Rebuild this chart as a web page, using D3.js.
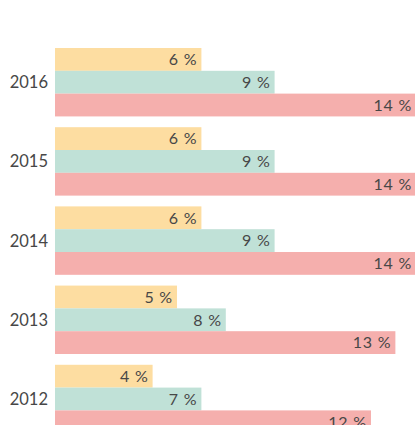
<html>
    <head>
        <title>bars</title>
        <script src="https://d3js.org/d3.v7.min.js"></script>
    </head>
    <body>
        <svg id="chart" height="425" width="415"></svg>
        <script>
            // years, top to bottom
            const years = ["2016", "2015", "2014", "2013", "2012"];
            const series = ["a", "b", "c"];
            const colors = ["#fddda1", "#c0e1d7", "#f5afad"];

            // bar lengths (same unit for all bars)
            const barA = [6, 6, 6, 5, 4];
            const barB = [9, 9, 9, 7, 6];
            const barC = [14.8, 14.8, 14.8, 13.95, 12.95];

            // the percentages printed at the bar ends
            const labelA = [6, 6, 6, 5, 4];
            const labelB = [9, 9, 9, 8, 7];
            const labelC = [14, 14, 14, 13, 12];

            const svg = d3.select("#chart");

            const rows = years.map((y, i) => ({
                year: y,
                bars: [
                    { key: "a", v: barA[i], label: labelA[i] },
                    { key: "b", v: barB[i], label: labelB[i] },
                    { key: "c", v: barC[i], label: labelC[i] }
                ]
            }));

            const x = d3.scaleLinear().domain([0, 15]).range([55, 421]);
            const y = d3.scaleBand().domain(years).range([48, 433.2]).paddingInner(0.136).paddingOuter(0);
            const y1 = d3.scaleBand().domain(series).range([0, y.bandwidth()]);
            const color = d3.scaleOrdinal().domain(series).range(colors);

            const groups = svg.selectAll("g.year").data(rows)
                .join("g")
                .attr("class", "year")
                .attr("transform", d => "translate(0," + y(d.year) + ")");

            groups.selectAll("rect").data(d => d.bars)
                .join("rect")
                .attr("x", x(0))
                .attr("y", d => y1(d.key))
                .attr("width", d => x(d.v) - x(0))
                .attr("height", y1.bandwidth())
                .attr("fill", d => color(d.key));

            groups.selectAll("text.val").data(d => d.bars)
                .join("text")
                .attr("class", "val")
                .attr("x", d => x(d.v) - 4)
                .attr("y", d => y1(d.key) + y1.bandwidth() / 2)
                .attr("dy", "0.36em")
                .attr("text-anchor", "end")
                .text(d => d.label + " %");

            groups.append("text")
                .attr("class", "yr")
                .attr("x", 48)
                .attr("y", y1("b") + y1.bandwidth() / 2)
                .attr("dy", "0.36em")
                .attr("text-anchor", "end")
                .text(d => d.year);
        </script>
    </body>
</html>

<style>
    body { margin: 0; background: #fff; }
    svg { display: block; }
    text { font-family: Lato, sans-serif; fill: #474747; }
    .val { font-size: 16px; letter-spacing: 0.8px; }
    .yr { font-size: 16.5px; }
</style>
